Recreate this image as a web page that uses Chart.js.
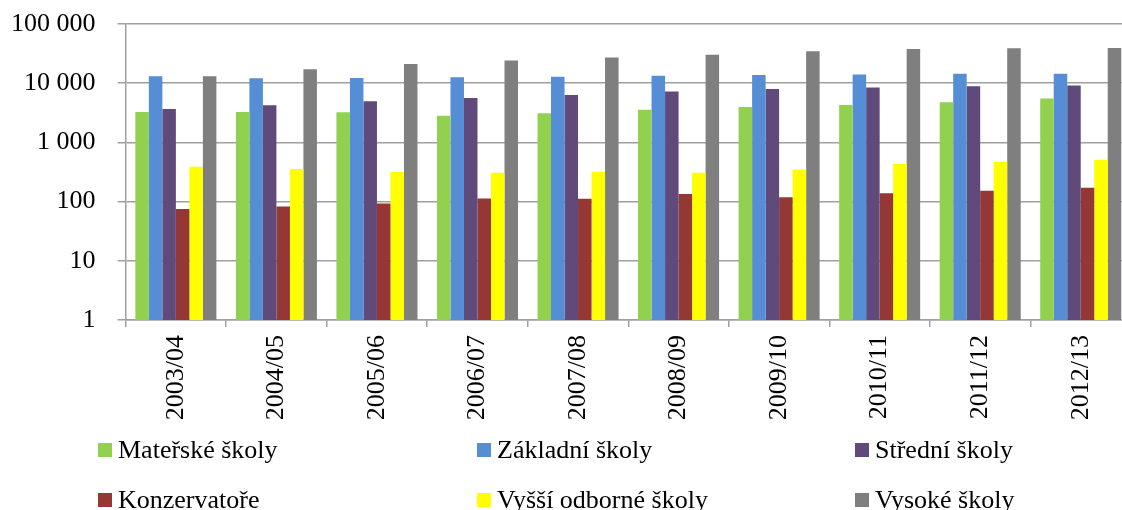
<!DOCTYPE html>
<html>
<head>
<meta charset="utf-8">
<script src="https://cdn.jsdelivr.net/npm/chart.js@4"></script>
<style>
    html, body { margin: 0; padding: 0; background: #fff; overflow: hidden; }
    #wrap { position: relative; width: 1122px; height: 510px; overflow: hidden; }
    #chartCanvas { position: absolute; left: 0; top: 0; }
    .leg { position: absolute; display: flex; align-items: center; font-family: "Liberation Serif", "Times New Roman", serif; font-size: 26px; color: #000; white-space: nowrap; }
    .leg i { display: inline-block; width: 14px; height: 14px; margin-right: 6px; }
</style>
</head>
<body>
<div id="wrap">
    <canvas id="chartCanvas" width="1131" height="510"></canvas>
    <div id="legend"></div>
</div>
<script>
const years = ["2003/04", "2004/05", "2005/06", "2006/07", "2007/08", "2008/09", "2009/10", "2010/11", "2011/12", "2012/13"]

const materske = [3270, 3270, 3220, 2830, 3100, 3570, 3970, 4300, 4750, 5490]
const zakladni = [13100, 12100, 12300, 12600, 12900, 13400, 13800, 14000, 14500, 14500]
const stredni = [3670, 4230, 4940, 5640, 6340, 7210, 8000, 8430, 8870, 9100]
const konzervatore = [75, 83, 93, 113, 112, 134, 119, 139, 152, 171]
const vyssiOdborne = [388, 355, 316, 307, 319, 307, 349, 431, 471, 510]
const vysoke = [13100, 17200, 21200, 24100, 27100, 30100, 34700, 38000, 39000, 39500]

const yTicks = [1, 10, 100, 1000, 10000, 100000]

const series = [
    { label: "Mateřské školy", data: materske, color: "#92D050" },
    { label: "Základní školy", data: zakladni, color: "#558ED5" },
    { label: "Střední školy", data: stredni, color: "#604A7B" },
    { label: "Konzervatoře", data: konzervatore, color: "#953735" },
    { label: "Vyšší odborné školy", data: vyssiOdborne, color: "#FFFF00" },
    { label: "Vysoké školy", data: vysoke, color: "#7F7F7F" }
]

const font = { family: "'Liberation Serif', 'Times New Roman', serif", size: 26 }
const gridColor = "#A0A0A0"

// legend in 3 columns, 2 rows (same order as the original)
const legend = document.getElementById("legend")
const colX = [98, 477, 855]
const rowY = [450, 500]
series.forEach((s, i) => {
    const el = document.createElement("div")
    el.className = "leg"
    el.style.left = colX[i % 3] + "px"
    el.style.top = (rowY[Math.floor(i / 3)] - 16) + "px"
    el.style.height = "32px"
    el.innerHTML = '<i style="background:' + s.color + '"></i>' + s.label
    legend.appendChild(el)
})

new Chart(document.getElementById("chartCanvas"), {
    type: "bar",
    data: {
        labels: years,
        datasets: series.map(s => ({
            label: s.label,
            data: s.data,
            backgroundColor: s.color,
            borderWidth: 0,
            barPercentage: 1,
            categoryPercentage: 0.806
        }))
    },
    options: {
        responsive: false,
        animation: false,
        layout: { padding: { left: 0, right: 0, top: 24, bottom: 80 } },
        plugins: {
            legend: { display: false },
            tooltip: { enabled: false }
        },
        scales: {
            x: {
                afterFit: (scale) => { scale.height = 110 },
                grid: { offset: true, drawOnChartArea: false, tickLength: 7, color: gridColor, lineWidth: 1.5 },
                border: { color: gridColor, width: 1.5 },
                ticks: { font: font, color: "#000", minRotation: 90, maxRotation: 90, padding: 8, autoSkip: false }
            },
            y: {
                type: "logarithmic",
                min: 1,
                max: 100000,
                afterFit: (scale) => {
                    scale.width = 125.6
                    // the big tick padding should not push the plot down
                    scale.paddingTop = 14
                    scale.paddingBottom = 14
                },
                afterBuildTicks: (scale) => { scale.ticks = yTicks.map(v => ({ value: v })) },
                grid: { color: gridColor, lineWidth: 1.5, tickLength: 8 },
                border: { color: gridColor, width: 1.5 },
                ticks: {
                    font: font,
                    color: "#000",
                    padding: 22,
                    callback: (v) => String(v).replace(/\B(?=(\d{3})+(?!\d))/g, " ")
                }
            }
        }
    }
})
</script>
</body>
</html>
